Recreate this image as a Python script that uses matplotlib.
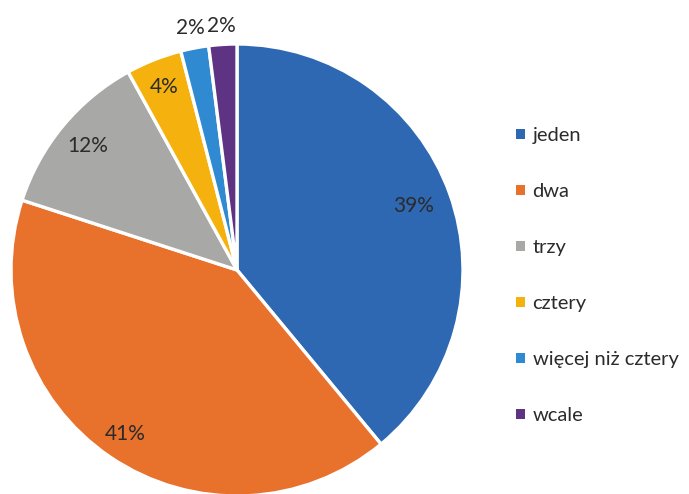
import matplotlib
matplotlib.use("Agg")
import matplotlib.pyplot as plt
from matplotlib.patches import Patch
import numpy as np

categories = ["jeden", "dwa", "trzy", "cztery", "więcej niż cztery", "wcale"]
values = [39, 41, 12, 4, 2, 2]
colors = ["#2E68B2", "#E8712C", "#A8A8A6", "#F5B20E", "#2F8AD2", "#5E3383"]

plt.rcParams['font.family'] = ['Lato', 'DejaVu Sans']

fig = plt.figure(figsize=(6.89, 4.94), dpi=100)
fig.patch.set_facecolor("white")
R = 226
cx, cy = 237, 270
W, H = 689, 494
ax = fig.add_axes([(cx - R) / W, (H - cy - R) / H, 2 * R / W, 2 * R / H])

wedges, texts, autotexts = ax.pie(
    values, colors=colors, startangle=90, counterclock=False,
    autopct='%.0f%%', pctdistance=0.86, radius=1.0,
    wedgeprops=dict(edgecolor="white", linewidth=2.4),
    textprops=dict(color="#2b2b2b", fontsize=15))

label_r = [0.83, 0.88, 0.86, 0.87, 1.09, 1.08]
for w, t, r in zip(wedges, autotexts, label_r):
    ang = np.deg2rad((w.theta1 + w.theta2) / 2)
    t.set_position((r * np.cos(ang), r * np.sin(ang)))

ax.set_xlim(-1, 1)
ax.set_ylim(-1, 1)
ax.set_aspect("equal")
ax.axis("off")

handles = [Patch(facecolor=c, edgecolor="none") for c in colors]
leg = fig.legend(handles, categories, loc="upper left",
                 bbox_to_anchor=(506 / W, 1 - 117 / H), frameon=False,
                 fontsize=14.5, handlelength=0.42, handleheight=0.42,
                 handletextpad=0.4, labelspacing=1.94, borderpad=0)
for t in leg.get_texts():
    t.set_color("#2b2b2b")

fig.savefig("out.png", dpi=100)
